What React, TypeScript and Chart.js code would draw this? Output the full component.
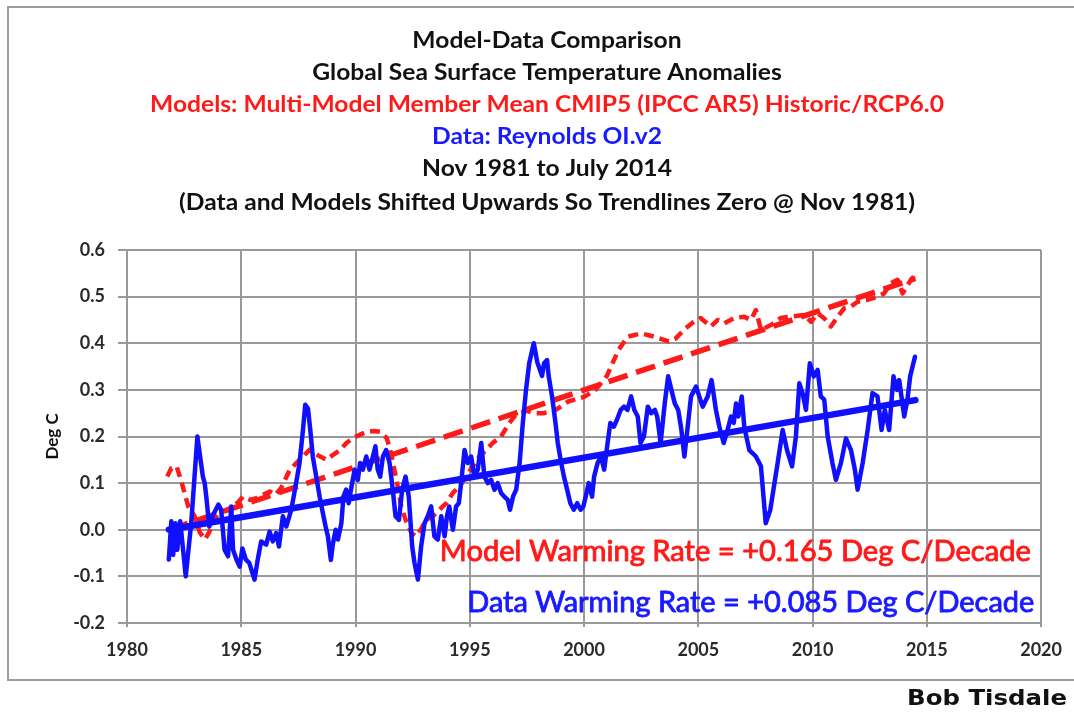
import React, { useEffect, useRef } from "react";
import { Chart, registerables } from "chart.js";

Chart.register(...registerables);

// ---- Data ----
const dataYears: number[] = [
  1981.83, 1981.94, 1982.02, 1982.12, 1982.2, 1982.33, 1982.57, 1982.81, 1983.08, 1983.32,
  1983.4, 1983.47, 1983.6, 1983.75, 1984.0, 1984.12, 1984.27, 1984.42, 1984.56, 1984.64,
  1984.79, 1984.93, 1985.05, 1985.2, 1985.35, 1985.58, 1985.72, 1985.87, 1986.09, 1986.24,
  1986.38, 1986.53, 1986.65, 1986.82, 1986.97, 1987.19, 1987.4, 1987.55, 1987.7, 1987.8,
  1987.92, 1988.02, 1988.13, 1988.28, 1988.43, 1988.57, 1988.69, 1988.79, 1988.92, 1989.01,
  1989.13, 1989.23, 1989.38, 1989.47, 1989.59, 1989.7, 1989.8, 1989.96, 1990.1, 1990.2,
  1990.32, 1990.47, 1990.61, 1990.76, 1990.87, 1990.97, 1991.08, 1991.2, 1991.34, 1991.49,
  1991.63, 1991.75, 1991.9, 1992.04, 1992.19, 1992.33, 1992.48, 1992.58, 1992.73, 1992.87,
  1993.02, 1993.16, 1993.31, 1993.45, 1993.6, 1993.75, 1993.9, 1994.0, 1994.1, 1994.26,
  1994.4, 1994.52, 1994.62, 1994.77, 1994.91, 1995.06, 1995.2, 1995.35, 1995.5, 1995.64,
  1995.79, 1995.93, 1996.08, 1996.22, 1996.37, 1996.51, 1996.66, 1996.76, 1996.89, 1997.03,
  1997.18, 1997.32, 1997.46, 1997.6, 1997.8, 1997.95, 1998.16, 1998.25, 1998.38, 1998.45,
  1998.6, 1998.75, 1998.85, 1999.0, 1999.12, 1999.26, 1999.4, 1999.55, 1999.7, 1999.85,
  1999.97, 2000.07, 2000.2, 2000.35, 2000.44, 2000.59, 2000.74, 2000.88, 2001.03, 2001.15,
  2001.3, 2001.44, 2001.6, 2001.75, 2001.9, 2002.06, 2002.2, 2002.35, 2002.47, 2002.62,
  2002.79, 2002.94, 2003.1, 2003.2, 2003.35, 2003.53, 2003.68, 2003.82, 2003.97, 2004.12,
  2004.26, 2004.39, 2004.52, 2004.68, 2004.9, 2005.19, 2005.41, 2005.58, 2005.77, 2005.92,
  2006.11, 2006.28, 2006.43, 2006.55, 2006.65, 2006.75, 2006.9, 2007.01, 2007.23, 2007.38,
  2007.52, 2007.74, 2007.95, 2008.15, 2008.47, 2008.69, 2008.88, 2009.1, 2009.27, 2009.42,
  2009.56, 2009.71, 2009.88, 2010.05, 2010.22, 2010.36, 2010.51, 2010.66, 2010.87, 2011.02,
  2011.24, 2011.46, 2011.68, 2011.85, 2011.97, 2012.19, 2012.41, 2012.62, 2012.84, 2013.02,
  2013.16, 2013.35, 2013.54, 2013.69, 2013.79, 2014.01, 2014.15, 2014.27, 2014.48,
];
const dataValues: number[] = [
  -0.064, 0.018, -0.054, 0.014, -0.043, 0.018, -0.1, 0.014, 0.2, 0.114,
  0.1, 0.071, 0.007, 0.03, 0.054, 0.043, -0.043, -0.057, 0.05, -0.043,
  -0.064, -0.079, -0.04, -0.064, -0.071, -0.107, -0.064, -0.025, -0.032, -0.004,
  -0.025, -0.007, -0.036, 0.029, 0.007, 0.043, 0.1, 0.143, 0.214, 0.268,
  0.26, 0.214, 0.157, 0.114, 0.071, 0.036, 0.007, -0.014, -0.065, -0.03,
  0.0, -0.021, 0.014, 0.071, 0.086, 0.057, 0.086, 0.129, 0.107, 0.143,
  0.129, 0.157, 0.129, 0.157, 0.179, 0.129, 0.114, 0.157, 0.171, 0.143,
  0.086, 0.029, 0.021, 0.086, 0.114, 0.071, -0.036, -0.071, -0.107, -0.036,
  0.014, 0.029, 0.05, -0.014, -0.021, 0.029, -0.014, 0.029, 0.05, 0.0,
  0.05, 0.057, 0.1, 0.171, 0.143, 0.157, 0.114, 0.129, 0.186, 0.114,
  0.1, 0.107, 0.086, 0.1, 0.079, 0.071, 0.064, 0.043, 0.071, 0.086,
  0.143, 0.229, 0.3, 0.357, 0.4, 0.36, 0.33, 0.357, 0.364, 0.33,
  0.286, 0.229, 0.186, 0.143, 0.114, 0.086, 0.057, 0.043, 0.057, 0.043,
  0.05, 0.071, 0.1, 0.071, 0.114, 0.143, 0.157, 0.129, 0.186, 0.229,
  0.221, 0.236, 0.257, 0.264, 0.257, 0.286, 0.257, 0.243, 0.186, 0.2,
  0.264, 0.25, 0.257, 0.243, 0.186, 0.271, 0.329, 0.3, 0.271, 0.257,
  0.214, 0.157, 0.214, 0.286, 0.307, 0.264, 0.286, 0.321, 0.257, 0.221,
  0.186, 0.214, 0.243, 0.229, 0.271, 0.243, 0.286, 0.221, 0.171, 0.164,
  0.157, 0.136, 0.014, 0.043, 0.143, 0.214, 0.171, 0.136, 0.2, 0.314,
  0.293, 0.257, 0.357, 0.329, 0.343, 0.286, 0.279, 0.2, 0.143, 0.107,
  0.143, 0.196, 0.171, 0.129, 0.086, 0.143, 0.214, 0.293, 0.286, 0.214,
  0.257, 0.214, 0.329, 0.3, 0.321, 0.243, 0.279, 0.329, 0.371,
];

const modelYears: number[] = [
  1981.76, 1981.94, 1982.17, 1982.4, 1982.68, 1982.95, 1983.18, 1983.41, 1983.6, 1983.77,
  1984.05, 1984.36, 1984.7, 1985.08, 1985.4, 1985.7, 1985.95, 1986.25, 1986.5, 1986.75,
  1987.13, 1987.55, 1988.0, 1988.35, 1988.73, 1989.0, 1989.3, 1989.6, 1989.9, 1990.2,
  1990.48, 1990.8, 1991.07, 1991.36, 1991.5, 1991.64, 1991.82, 1992.0, 1992.2, 1992.45,
  1992.65, 1992.85, 1993.09, 1993.38, 1993.67, 1993.97, 1994.26, 1994.55, 1994.84, 1995.13,
  1995.42, 1995.71, 1996.0, 1996.37, 1996.73, 1996.95, 1997.17, 1997.5, 1997.8, 1998.2,
  1998.7, 1999.3, 2000.0, 2000.5, 2001.0, 2001.5, 2001.9, 2002.5, 2003.1, 2003.7,
  2004.0, 2004.4, 2004.8, 2005.1, 2005.55, 2005.85, 2006.14, 2006.57, 2007.0, 2007.3,
  2007.52, 2007.74, 2008.18, 2008.6, 2009.05, 2009.64, 2009.93, 2010.22, 2010.5, 2010.8,
  2011.1, 2011.38, 2011.68, 2011.97, 2012.4, 2012.84, 2013.13, 2013.43, 2013.72, 2013.94,
  2014.3, 2014.48,
];
const modelValues: number[] = [
  0.114, 0.132, 0.136, 0.1, 0.05, 0.03, -0.005, -0.021, -0.005, 0.021,
  0.036, 0.043, 0.05, 0.071, 0.064, 0.068, 0.075, 0.082, 0.075, 0.09,
  0.129, 0.15, 0.172, 0.16, 0.15, 0.16, 0.17, 0.186, 0.197, 0.204,
  0.21, 0.212, 0.21, 0.197, 0.175, 0.143, 0.1, 0.05, 0.02, -0.007,
  -0.014, 0.0, 0.021, 0.029, 0.043, 0.057, 0.079, 0.093, 0.114, 0.136,
  0.157, 0.171, 0.186, 0.2, 0.229, 0.243, 0.25, 0.255, 0.25, 0.25,
  0.255, 0.275, 0.285, 0.3, 0.33, 0.385, 0.414, 0.421, 0.414, 0.404,
  0.41, 0.43, 0.446, 0.454, 0.436, 0.45, 0.443, 0.454, 0.457, 0.45,
  0.471, 0.429, 0.439, 0.454, 0.457, 0.461, 0.446, 0.464, 0.454, 0.436,
  0.457, 0.475, 0.479, 0.489, 0.493, 0.5, 0.507, 0.529, 0.536, 0.507,
  0.536, 0.546,
];

const trendYears: number[] = [1981.83, 2014.5];
const dataTrendValues: number[] = [0.0, 0.278];
const modelTrendValues: number[] = [0.0, 0.539];

const xTicks: number[] = [1980, 1985, 1990, 1995, 2000, 2005, 2010, 2015, 2020];
const yTicks: number[] = [-0.2, -0.1, 0.0, 0.1, 0.2, 0.3, 0.4, 0.5, 0.6];

const titleLines: string[] = [
  "Model-Data Comparison",
  "Global Sea Surface Temperature Anomalies",
  "Models: Multi-Model Member Mean CMIP5 (IPCC AR5) Historic/RCP6.0",
  "Data: Reynolds OI.v2",
  "Nov 1981 to July 2014",
  "(Data and Models Shifted Upwards So Trendlines Zero @ Nov 1981)",
];
const titleColors: string[] = ["#111111", "#111111", "#ff1a1a", "#1a1aff", "#111111", "#111111"];
const modelRateLabel = "Model Warming Rate = +0.165 Deg C/Decade";
const dataRateLabel = "Data Warming Rate = +0.085 Deg C/Decade";
const authorLabel = "Bob Tisdale";
const yAxisTitle = "Deg C";

const zip = (xs: number[], ys: number[]) => xs.map((x, i) => ({ x, y: ys[i] }));

function drawFitted(
  ctx: CanvasRenderingContext2D,
  text: string,
  x: number,
  y: number,
  scaleX: number,
  font: string,
  color: string,
  align: CanvasTextAlign,
  stroke = 0
) {
  ctx.save();
  ctx.font = font;
  ctx.translate(x, y);
  ctx.scale(scaleX, 1);
  ctx.textAlign = align;
  ctx.textBaseline = "middle";
  ctx.fillStyle = color;
  ctx.fillText(text, 0, 0);
  if (stroke > 0) {
    ctx.strokeStyle = color;
    ctx.lineWidth = stroke;
    ctx.lineJoin = "round";
    ctx.strokeText(text, 0, 0);
  }
  ctx.restore();
}

const decorPlugin = {
  id: "decor",
  beforeDraw(chart: any) {
    const ctx: CanvasRenderingContext2D = chart.ctx;
    ctx.save();
    ctx.fillStyle = "#ffffff";
    ctx.fillRect(0, 0, chart.width, chart.height);
    ctx.strokeStyle = "#9c9c9c";
    ctx.lineWidth = 2;
    ctx.strokeRect(8, 7, chart.width + 40, 673);
    ctx.restore();
  },
  afterDraw(chart: any) {
    const ctx: CanvasRenderingContext2D = chart.ctx;
    const xs = chart.scales.x;
    const ys = chart.scales.y;

    // Title block
    const titleFont = "bold 23px Lato";
    const lineYs = [41, 73, 105, 137, 169, 203];
    titleLines.forEach((t, i) => {
      drawFitted(ctx, t, 547, lineYs[i], 1.07, titleFont, titleColors[i], "center");
    });

    // Warming rate annotations (anchored in data space)
    const annFont = "29px Lato";
    ctx.save();
    ctx.font = annFont;
    const mW = ctx.measureText(modelRateLabel).width;
    const dW = ctx.measureText(dataRateLabel).width;
    ctx.restore();
    drawFitted(ctx, modelRateLabel, xs.getPixelForValue(2019.55), ys.getPixelForValue(-0.047), 591 / mW, annFont, "#ff1a1a", "right", 0.9);
    drawFitted(ctx, dataRateLabel, xs.getPixelForValue(2019.7), ys.getPixelForValue(-0.157), 567 / dW, annFont, "#1a1aff", "right", 0.9);

    // Author
    const aFont = "bold 22px 'DejaVu Sans'";
    ctx.save();
    ctx.font = aFont;
    const aW = ctx.measureText(authorLabel).width;
    ctx.restore();
    drawFitted(ctx, authorLabel, 1067, 699, 160 / aW, aFont, "#111111", "right");
  },
};

export default function App() {
  const ref = useRef<HTMLCanvasElement | null>(null);

  useEffect(() => {
    document.body.style.margin = "0";
    if (!ref.current) return;
    const chart = new Chart(ref.current, {
      type: "line",
      data: {
        datasets: [
          {
            label: "Data trend",
            data: zip(trendYears, dataTrendValues),
            borderColor: "#1010ff",
            borderWidth: 6.5,
            pointRadius: 0,
            borderCapStyle: "round",
          },
          {
            label: "Data",
            data: zip(dataYears, dataValues),
            borderColor: "#1010ff",
            borderWidth: 4.5,
            pointRadius: 0,
            borderJoinStyle: "round",
            borderCapStyle: "round",
          },
          {
            label: "Model trend",
            data: zip(trendYears, modelTrendValues),
            borderColor: "#ff1a1a",
            borderWidth: 5.5,
            borderDash: [20, 9],
            pointRadius: 0,
          },
          {
            label: "Models",
            data: zip(modelYears, modelValues),
            borderColor: "#ff1a1a",
            borderWidth: 4.5,
            borderDash: [10, 6],
            pointRadius: 0,
            borderJoinStyle: "round",
          },
        ],
      },
      options: {
        animation: false,
        responsive: true,
        maintainAspectRatio: false,
        layout: { padding: { left: 0, top: 250, right: 32, bottom: 0 } },
        plugins: {
          legend: { display: false },
          title: { display: false },
          tooltip: { enabled: false },
        },
        scales: {
          x: {
            type: "linear",
            min: 1980,
            max: 2020,
            afterFit: (s: any) => {
              s.height = 90;
            },
            afterBuildTicks: (s: any) => {
              s.ticks = xTicks.map((v) => ({ value: v }));
            },
            ticks: {
              callback: (v: any) => String(v),
              font: { family: "Lato", size: 18, weight: "bold" },
              color: "#2a2a2a",
              padding: 12,
              maxRotation: 0,
            },
            grid: { color: "#999999", lineWidth: 2, tickLength: 4 },
            border: { color: "#999999", width: 2 },
          },
          y: {
            type: "linear",
            min: -0.2,
            max: 0.6,
            afterFit: (s: any) => {
              s.width = 127;
            },
            afterBuildTicks: (s: any) => {
              s.ticks = yTicks.map((v) => ({ value: v }));
            },
            ticks: {
              callback: (v: any) => Number(v).toFixed(1),
              font: { family: "Lato", size: 18, weight: "bold" },
              color: "#2a2a2a",
              padding: 13,
            },
            grid: { color: "#999999", lineWidth: 2, tickLength: 9 },
            border: { color: "#999999", width: 2 },
            title: {
              display: true,
              text: yAxisTitle,
              font: { family: "Lato", size: 17, weight: "bold" },
              color: "#111111",
              padding: { top: 42, bottom: 0 },
            },
          },
        },
      },
      plugins: [decorPlugin],
    });
    return () => chart.destroy();
  }, []);

  return (
    <div style={{ position: "relative", width: "1074px", height: "713px" }}>
      <canvas ref={ref} />
    </div>
  );
}
